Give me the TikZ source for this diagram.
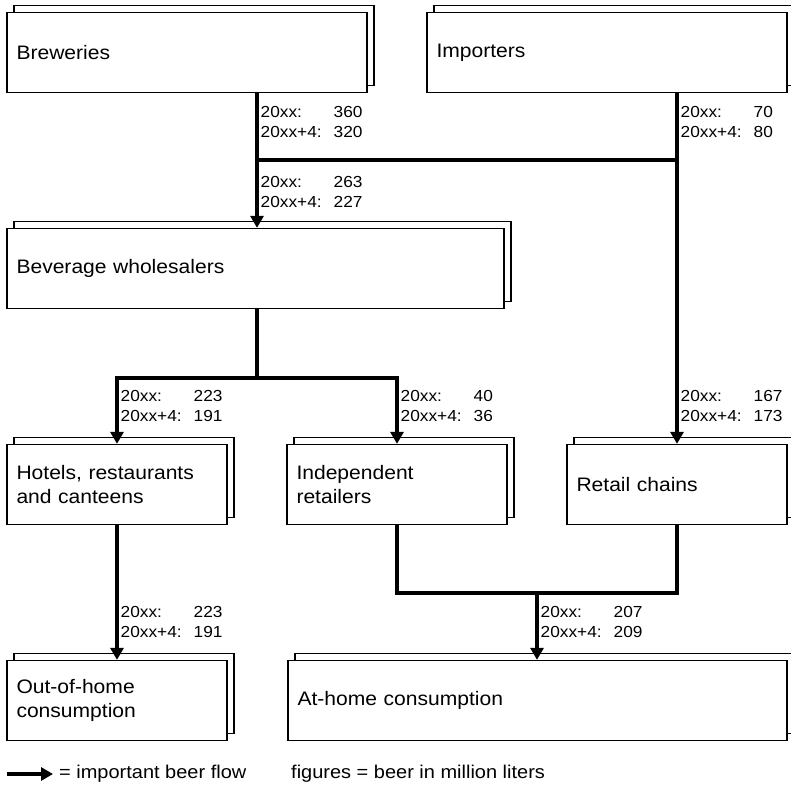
\documentclass[tikz,border=0pt]{standalone}
\usepackage{fontspec}
\setmainfont{Liberation Sans}[FakeStretch=1.08]
\usetikzlibrary{shapes,shadows,calc}
\usetikzlibrary{arrows.meta}

\newcommand{\boxfont}{\fontsize{19.5}{24}\selectfont}
\newcommand{\figfont}{\fontsize{16}{19.5}\selectfont}
\newcommand{\keyfont}{\fontsize{18.5}{22}\selectfont}
% two years of a flow, numbers in one column
\newcommand{\beerfigs}[2]{\makebox[73pt][l]{20xx:}#1\\\makebox[73pt][l]{20xx+4:}#2}

\begin{document}
\begin{tikzpicture}[x=1pt, y=-1pt, node distance = 216pt, auto]
	\tikzstyle{stack} = [rectangle, minimum height=80pt, inner xsep=9.5pt, align=left, draw=black, fill=white, line width=1.3pt, font=\boxfont, copy shadow={shadow xshift=7pt, shadow yshift=7pt, draw=black, fill=white, line width=1.3pt}]
	\tikzstyle{figs} = [anchor=west, inner xsep=3.5pt, inner ysep=0pt, align=left, font=\figfont]
	\tikzstyle{flow} = [line width=4pt]
	\tikzstyle{arrow} = [flow, -{Triangle[length=12pt,width=13pt]}]

	\useasboundingbox (0,0) rectangle (791,787);

	\node (brew) [stack, text width=341pt] at (187,52.5) {Breweries};
	\node (imp) [stack, text width=341pt] at (607,52.5) {Importers};
	\node (whole) [stack, text width=478pt, below of=brew, xshift=68.5pt] {Beverage wholesalers};
	\node (hotel) [stack, text width=201pt, below of=whole, xshift=-138.5pt] {Hotels, restaurants\\and canteens};
	\node (indep) [stack, text width=201pt, right of=hotel, xshift=64pt] {Independent\\retailers};
	\node (retail) [stack, text width=201pt, right of=indep, xshift=64pt] {Retail chains};
	\node (out) [stack, text width=201pt, below of=hotel] {Out-of-home\\consumption};
	\node (athome) [stack, text width=480pt, below of=indep, xshift=140.5pt] {At-home consumption};

	\coordinate (split1) at (257,160);
	\coordinate (split2) at (257,378);
	\coordinate (merge) at (537,593);

	\draw [flow](brew.south -| split1) -- (split1);
	\draw [flow](split1) -- (split1 -| retail.north);
	\draw [arrow](imp.south -| retail.north) -- (retail.north);
	\draw [arrow](split1) -- (split1 |- whole.north);
	\draw [flow](split1 |- whole.south) -- (split2);
	\draw [arrow](split2) -| (hotel.north);
	\draw [arrow](split2) -| (indep.north);
	\draw [arrow](hotel.south) -- (out.north);
	\draw [flow](indep.south) |- (merge) -| (retail.south);
	\draw [arrow](merge) -- (merge |- athome.north);

	\node (fig1) [figs] at (257,122) {\beerfigs{360}{320}};
	\node (fig2) [figs] at (257,192) {\beerfigs{263}{227}};
	\node (fig3) [figs] at (677,122) {\beerfigs{70}{80}};
	\node (fig4) [figs] at (117,406) {\beerfigs{223}{191}};
	\node (fig5) [figs] at (397,406) {\beerfigs{40}{36}};
	\node (fig6) [figs] at (677,406) {\beerfigs{167}{173}};
	\node (fig7) [figs] at (117,622) {\beerfigs{223}{191}};
	\node (fig8) [figs] at (537,622) {\beerfigs{207}{209}};

	% key below the chart
	\coordinate (keystart) at (7,774);
	\node (keyflow) [anchor=west, inner xsep=6pt, font=\keyfont] at (53,774) {= important beer flow};
	\node (keyfigs) [anchor=west, inner xsep=0pt, font=\keyfont] at (291,774) {figures = beer in million liters};
	\draw [arrow](keystart) -- (keyflow.west);
\end{tikzpicture}
\end{document}
